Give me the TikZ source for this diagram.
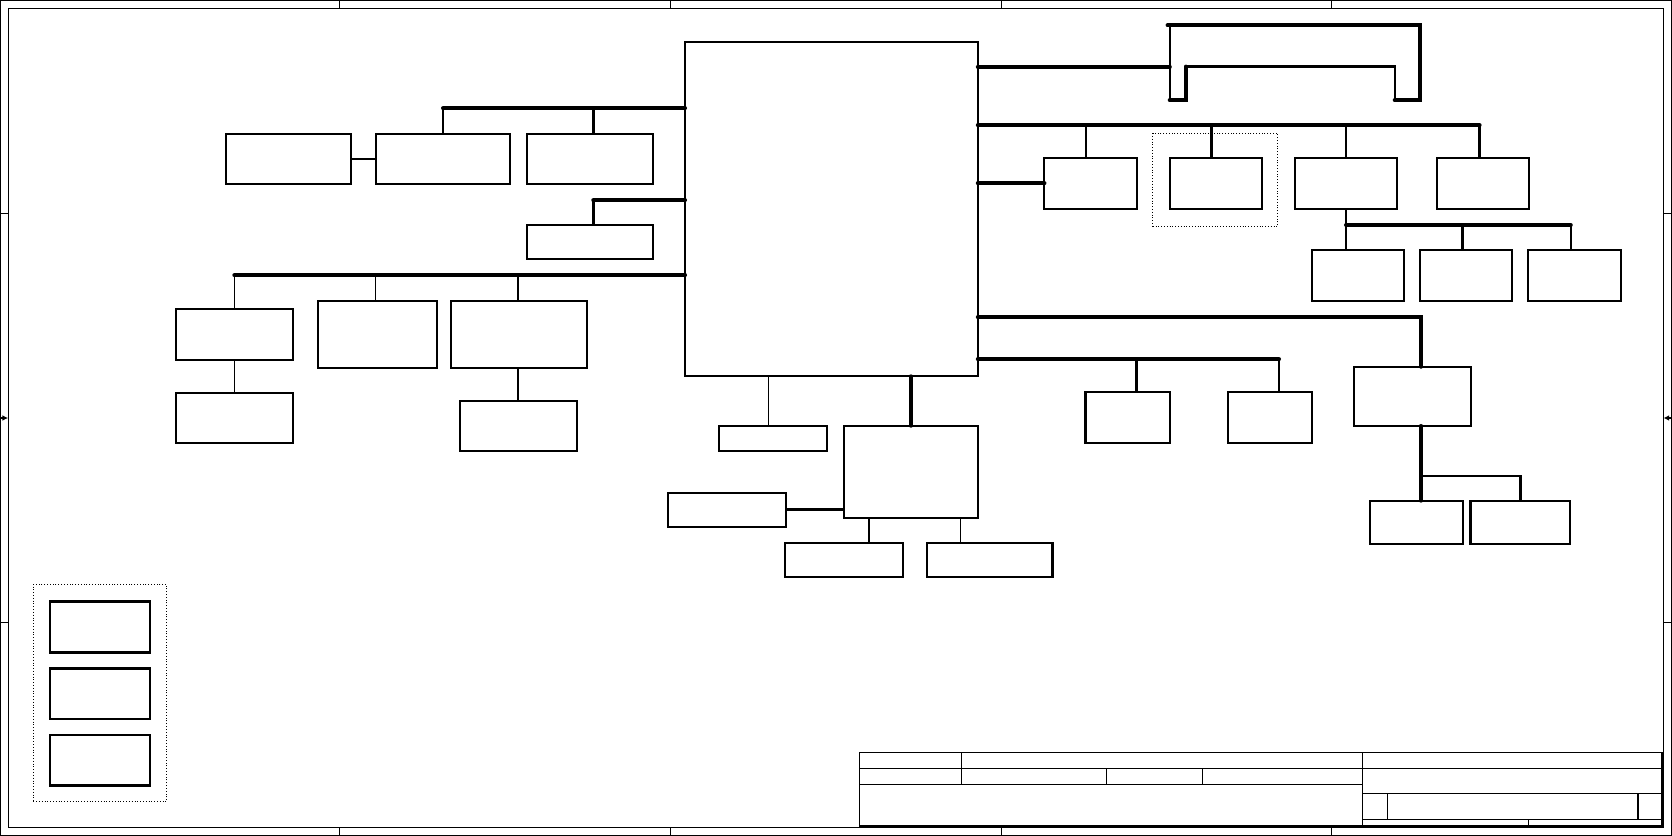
\documentclass[tikz,border=0pt]{standalone}
\usetikzlibrary{arrows.meta, calc}
\tikzset{
  blk/.style 2 args={draw, line width=1.1pt, inner sep=0pt, outer sep=0pt, minimum width=#1*0.02cm, minimum height=#2*0.02cm},
  grp/.style 2 args={draw, densely dotted, line width=0.5pt, inner sep=0pt, minimum width=#1*0.02cm, minimum height=#2*0.02cm},
  bus/.style={line width=2.2pt, line cap=round},
  lnk/.style={line width=1.3pt},
  wire/.style={line width=0.65pt},
  frm/.style={line width=0.6pt},
}

\begin{document}
\begin{tikzpicture}[x=0.02cm, y=-0.02cm]
  \useasboundingbox (0,0) rectangle (1568,784);
  \draw[frm] (0.6,0.6) rectangle (1567.4,783.4);
  \draw[frm] (7.6,7.8) rectangle (1560,776);
  \foreach \x in {318.5,629,939,1249} {
    \draw[frm] (\x,0.6) -- (\x,7.8);
    \draw[frm] (\x,776) -- (\x,783.4);
  }
  \foreach \y in {200,584} {
    \draw[frm] (0.6,\y) -- (7.6,\y);
    \draw[frm] (1560,\y) -- (1567.4,\y);
  }
  \draw[frm, -{Latex[length=3pt,width=3pt]}] (0.6,392) -- (7.6,392);
  \draw[frm, -{Latex[length=3pt,width=3pt]}] (1567.4,392) -- (1560,392);

  \node[grp={117}{87.7}] (ga) at (1139.5,168.9) {};
  \node[grp={125}{203.8}] (gl) at (93.8,649.9) {};

  \node[blk={274.6}{313.9}] (cpu) at (779.7,196) {};
  \node[blk={117.7}{47.2}] (b1) at (270.7,149) {};
  \node[blk={126.1}{47.2}] (b2) at (415.5,149) {};
  \node[blk={118}{47.2}] (b3) at (553,149) {};
  \node[blk={118}{32}] (b4) at (553,227) {};
  \node[blk={109.8}{48.1}] (b5) at (219.8,313.5) {};
  \node[blk={112}{63}] (b6) at (353.8,313.5) {};
  \node[blk={127.6}{63}] (b7) at (487.1,313.5) {};
  \node[blk={109.8}{47.6}] (b8) at (219.8,392) {};
  \node[blk={109.6}{47.5}] (b9) at (486.2,399.5) {};
  \node[blk={101.9}{24.1}] (b10) at (725,411.2) {};
  \node[blk={125.5}{86.6}] (b11) at (854.2,442.5) {};
  \node[blk={110.3}{32}] (b12) at (681.8,478) {};
  \node[blk={110.2}{31.8}] (b13) at (791.7,524.9) {};
  \node[blk={117.6}{31.8}] (b14) at (928.2,524.9) {};

  \node[blk={86.5}{48}] (ra) at (1022.7,172) {};
  \node[blk={86.6}{48}] (rb) at (1140.3,172) {};
  \node[blk={95.3}{48}] (rc) at (1262.3,172) {};
  \node[blk={86.4}{48}] (rd) at (1390.8,172) {};
  \node[blk={86}{47.5}] (re) at (1273.6,258.2) {};
  \node[blk={86.2}{47.5}] (rf) at (1374.9,258.2) {};
  \node[blk={87}{47.5}] (rg) at (1476.5,258.2) {};
  \node[blk={110.1}{55.6}] (rh) at (1324.7,371.7) {};
  \node[blk={79.5}{47.8}] (ri) at (1057.7,391.9) {};
  \node[blk={78.8}{47.8}] (rj) at (1191.1,391.9) {};
  \node[blk={87.2}{41}] (rk) at (1328.1,490) {};
  \node[blk={93.4}{41}] (rl) at (1425.7,490) {};

  \node[blk={93.8}{47.5}, line width=1.4pt] (l1) at (93.8,588) {};
  \node[blk={93.8}{47.5}, line width=1.4pt] (l2) at (93.8,650.5) {};
  \node[blk={93.8}{47.5}, line width=1.4pt] (l3) at (93.8,713) {};

  \draw[bus] (b2.north |- 0,101.6) -- (cpu.west |- 0,101.6);
  \draw[wire] (b2.north) -- (b2.north |- 0,101.6);
  \draw[lnk] (b3.north -| 556.4,0) -- (556.4,101.6);
  \draw[lnk] (b1) -- (b2);
  \draw[bus] (556.4,187.9) -- (cpu.west |- 0,187.9);
  \draw[lnk] (b4.north -| 556.4,0) -- (556.4,187.9);
  \draw[bus] (b5.north |- 0,258.2) -- (cpu.west |- 0,258.2);
  \draw[wire] (b5.north) -- (b5.north |- 0,258.2);
  \draw[wire] (b6.north -| 352.5,0) -- (352.5,258.2);
  \draw[lnk] (b7.north -| 486,0) -- (486,258.2);
  \draw[wire] (b5) -- (b8);
  \draw[lnk] (b7.south -| 486,0) -- (b9.north -| 486,0);

  \draw[wire] (cpu.south -| 721,0) -- (b10.north -| 721,0);
  \draw[bus] (cpu.south -| b11.north) -- (b11.north);
  \draw[lnk] (b12.east) -- (b12.east -| b11.west);
  \draw[wire] (b11.south -| 815,0) -- (b13.north -| 815,0);
  \draw[wire] (b11.south -| 901,0) -- (b14.north -| 901,0);

  \coordinate (br) at (1097,62.5);
  \draw[bus] (cpu.east |- br) -- (br);
  \draw[bus] (1095,23.8) -- (1332,23.8) -- (1332,94) -- (1308,94);
  \draw[lnk] (1308,94) -- (1308,62.5) -- (1112,62.5);
  \draw[bus] (1112,62.5) -- (1112,94) -- (1097,94);
  \draw[lnk] (1097,94) -- (1097,23.8);

  \draw[bus] (cpu.east |- 0,117.6) -- (1387.5,117.6);
  \foreach \n/\x in {ra/1018.6,rb/1136,rc/1262,rd/1387.5}
    \draw[lnk] (\n.north -| \x,0) -- (\x,117.6);
  \draw[bus] (cpu.east |- ra.west) -- (ra.west);
  \draw[lnk] (rc.south) -- (rc.south |- re.north);
  \draw[bus] (rc.south |- 0,211) -- (1473,211);
  \draw[lnk] (rf.north -| 1371.7,0) -- (1371.7,211);
  \draw[lnk] (rg.north -| 1473,0) -- (1473,211);

  \draw[bus] (cpu.east |- 0,297.6) -- (1332.6,297.6) -- (rh.north -| 1332.6,0);
  \draw[bus] (rh.south -| 1332.6,0) -- (rk.north -| 1332.6,0);
  \draw[lnk] (1332.6,446.4) -- (rl.north |- 0,446.4) -- (rl.north);
  \draw[bus] (cpu.east |- 0,337) -- (1199.4,337);
  \draw[lnk] (ri.north -| 1065.9,0) -- (1065.9,337);
  \draw[lnk] (rj.north -| 1199.4,0) -- (1199.4,337);

  \draw[frm] (806,705.6) rectangle (1559,774.7);
  \draw[lnk] (806,774.7) -- (1559,774.7) -- (1559,705.6);
  \draw[frm] (806,720.6) -- (1559,720.6) (806,735.3) -- (1278,735.3)
    (1278,744) -- (1559,744) (1278,768.4) -- (1559,768.4)
    (901.9,705.6) -- (901.9,735.3) (1278,705.6) -- (1278,774.7)
    (1038,720.6) -- (1038,735.3) (1127.6,720.6) -- (1127.6,735.3)
    (1301,744) -- (1301,768.4) (1433.8,768.4) -- (1433.8,774.7);
  \draw[lnk] (1536,744) -- (1536,768.4);
\end{tikzpicture}
\end{document}
